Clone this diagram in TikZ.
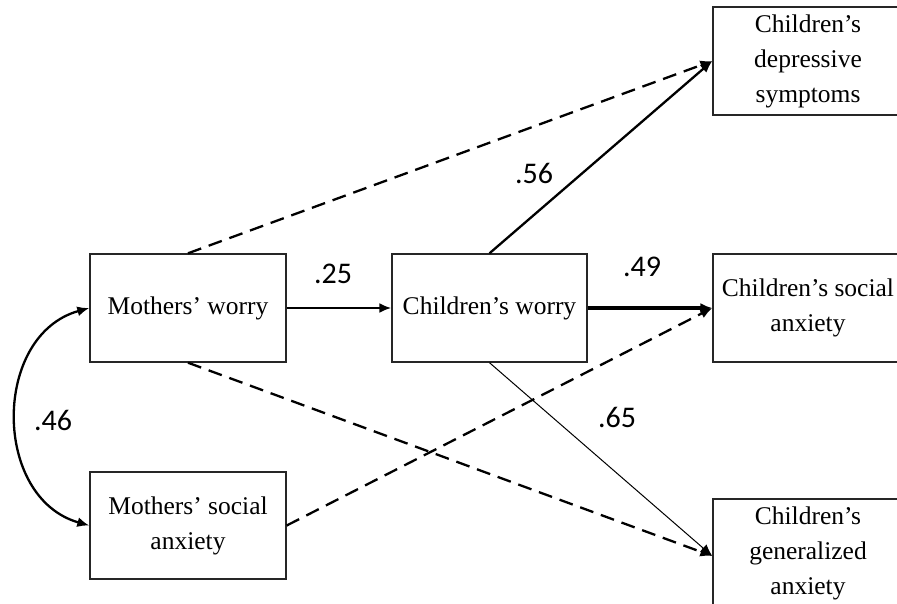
\documentclass[tikz,border=0pt]{standalone}
\usepackage{fontspec}
\setmainfont{Liberation Serif}
\newfontfamily\numfont{Carlito}
\usetikzlibrary{arrows.meta}
\begin{document}
\begin{tikzpicture}[x=1pt,y=-1pt,
  box/.style={draw=black!85,line width=1.4pt,minimum width=196pt,minimum height=108pt,inner sep=0pt,align=center,font=\fontsize{25.5}{35}\selectfont},
  rbox/.style={box,minimum width=190pt},
  coef/.style={font=\numfont\fontsize{30}{32}\selectfont,inner sep=0pt},
  arr/.style={-{Latex[length=12pt,width=10pt]},line width=2.3pt},
  dasharr/.style={arr,dash pattern=on 14pt off 8pt}]
\clip (0,0) rectangle (897,603);
\node[box] (mw) at (188,308) {Mothers’ worry};
\node[box,minimum height=107pt] (ms) at (188,525.5) {Mothers’ social\\anxiety};
\node[box,minimum width=195pt] (cw) at (489.5,308) {Children’s worry};
\node[rbox] (cd) at (808,61) {Children’s\\depressive\\symptoms};
\node[rbox] (cs) at (808,308) {Children’s social\\anxiety};
\node[rbox] (cg) at (808,553) {Children’s\\generalized\\anxiety};
\draw[arr] (mw.east) -- (cw.west);
\draw[dasharr] (mw.north) -- (cd.west);
\draw[arr] (cw.north) -- (cd.west);
\draw[arr,line width=3.2pt] (cw.east) -- (cs.west);
\draw[dasharr] (ms.east) -- (cs.west);
\draw[dasharr] (mw.south) -- ([yshift=-3pt]cg.west);
\draw[arr,line width=1pt] (cw.south) -- ([yshift=-3pt]cg.west);
\draw[{Latex[length=12pt,width=10pt]}-{Latex[length=12pt,width=10pt]},line width=2.3pt]
  (mw.west) .. controls (-8,335) and (-8,498) .. (ms.west);
\node[coef] (c25) at (333,274) {.25};
\node[coef] (c46) at (53,420) {.46};
\node[coef] (c56) at (534,173) {.56};
\node[coef] (c49) at (642,267) {.49};
\node[coef] (c65) at (617,417) {.65};
\end{tikzpicture}
\end{document}
